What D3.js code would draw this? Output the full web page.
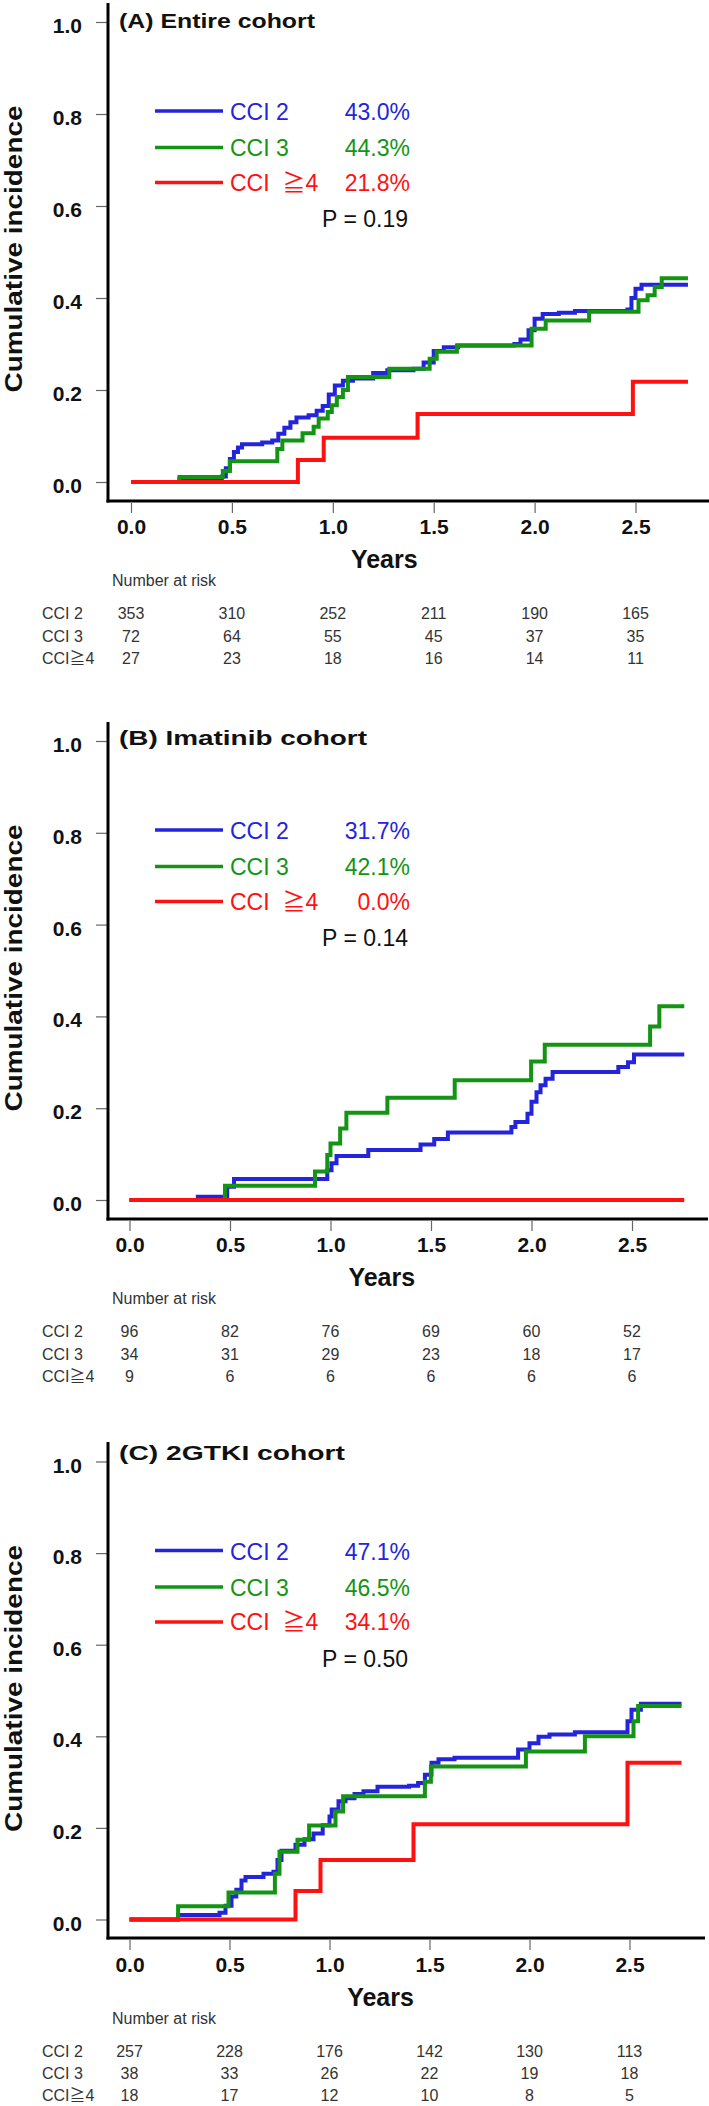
<!DOCTYPE html>
<html><head><meta charset="utf-8">
<script src="https://cdn.jsdelivr.net/npm/d3@7"></script>
<style>body{margin:0;background:#fff} svg{display:block}</style>
</head><body><svg id="c" width="709" height="2106"></svg>
<script>
// ---------- DATA ----------
const xTicks = [0, 0.5, 1.0, 1.5, 2.0, 2.5];
const yTicks = [0, 0.2, 0.4, 0.6, 0.8, 1.0];
const groupNames = ["CCI 2", "CCI 3", "CCI  \u22674"];
const riskNames = ["CCI 2", "CCI 3", "CCI\u22674"];
const seriesColors = ["#2424dc", "#149414", "#ff1111"];
const panelTitles = ["(A) Entire cohort", "(B) Imatinib  cohort", "(C) 2GTKI cohort"];
const pValues = ["P = 0.19", "P = 0.14", "P = 0.50"];

const A_pct = ["43.0%", "44.3%", "21.8%"];
const B_pct = ["31.7%", "42.1%", "0.0%"];
const C_pct = ["47.1%", "46.5%", "34.1%"];

// step curves: [years, cumulative incidence]
const A_cci2 = [[0,0],[0.24,0.006],[0.45,0.012],[0.47,0.03],[0.49,0.05],[0.51,0.065],[0.53,0.075],[0.55,0.082],[0.65,0.086],[0.70,0.09],[0.73,0.105],[0.76,0.118],[0.79,0.13],[0.82,0.14],[0.88,0.145],[0.92,0.155],[0.95,0.165],[0.98,0.19],[1.01,0.21],[1.05,0.22],[1.10,0.225],[1.20,0.237],[1.27,0.243],[1.40,0.246],[1.45,0.26],[1.50,0.285],[1.55,0.293],[1.62,0.297],[1.90,0.30],[1.93,0.31],[1.97,0.33],[2.00,0.355],[2.04,0.365],[2.12,0.368],[2.20,0.372],[2.46,0.375],[2.48,0.40],[2.50,0.42],[2.53,0.429],[2.76,0.429]];
const A_cci3 = [[0,0],[0.24,0.011],[0.455,0.024],[0.49,0.045],[0.725,0.072],[0.75,0.09],[0.85,0.106],[0.905,0.12],[0.93,0.138],[0.975,0.152],[0.995,0.167],[1.02,0.185],[1.05,0.2],[1.075,0.228],[1.28,0.246],[1.48,0.268],[1.515,0.283],[1.615,0.297],[1.985,0.333],[2.055,0.351],[2.27,0.37],[2.515,0.395],[2.56,0.406],[2.595,0.424],[2.63,0.443],[2.76,0.443]];
const A_cci4 = [[0,0],[0.827,0.048],[0.955,0.096],[1.42,0.148],[2.487,0.218],[2.76,0.218]];

const B_cci2 = [[0,0],[0.34,0.007],[0.486,0.029],[0.52,0.046],[0.984,0.065],[1.005,0.08],[1.03,0.096],[1.188,0.109],[1.448,0.121],[1.516,0.133],[1.584,0.147],[1.90,0.159],[1.92,0.17],[1.98,0.188],[2.0,0.214],[2.025,0.235],[2.045,0.25],[2.07,0.264],[2.105,0.279],[2.432,0.29],[2.48,0.30],[2.51,0.317],[2.76,0.317]];
const B_cci3 = [[0,0],[0.475,0.031],[0.923,0.062],[0.984,0.098],[1.0,0.123],[1.048,0.156],[1.079,0.19],[1.283,0.223],[1.618,0.261],[1.998,0.302],[2.066,0.338],[2.59,0.378],[2.636,0.422],[2.76,0.422]];
const B_cci4 = [[0,0],[2.76,0]];

const C_cci2 = [[0,0],[0.243,0.01],[0.45,0.015],[0.48,0.03],[0.51,0.05],[0.534,0.065],[0.56,0.085],[0.58,0.093],[0.67,0.10],[0.72,0.104],[0.74,0.13],[0.76,0.15],[0.83,0.163],[0.875,0.175],[0.92,0.188],[0.966,0.206],[1.0,0.225],[1.011,0.24],[1.045,0.258],[1.08,0.265],[1.125,0.274],[1.17,0.28],[1.24,0.29],[1.398,0.292],[1.443,0.298],[1.477,0.316],[1.51,0.342],[1.545,0.35],[1.625,0.353],[1.943,0.371],[2.0,0.385],[2.045,0.399],[2.1,0.404],[2.227,0.409],[2.49,0.433],[2.51,0.458],[2.557,0.471],[2.76,0.471]];
const C_cci3 = [[0,0],[0.243,0.029],[0.495,0.059],[0.727,0.10],[0.75,0.148],[0.84,0.174],[0.898,0.205],[1.03,0.236],[1.068,0.269],[1.477,0.301],[1.507,0.334],[1.982,0.367],[2.277,0.40],[2.52,0.433],[2.543,0.466],[2.76,0.466]];
const C_cci4 = [[0,0],[0.83,0.062],[0.955,0.13],[1.42,0.208],[2.49,0.342],[2.76,0.342]];

// number at risk
const A_risk2 = [353, 310, 252, 211, 190, 165];
const A_risk3 = [72, 64, 55, 45, 37, 35];
const A_risk4 = [27, 23, 18, 16, 14, 11];
const B_risk2 = [96, 82, 76, 69, 60, 52];
const B_risk3 = [34, 31, 29, 23, 18, 17];
const B_risk4 = [9, 6, 6, 6, 6, 6];
const C_risk2 = [257, 228, 176, 142, 130, 113];
const C_risk3 = [38, 33, 26, 22, 19, 18];
const C_risk4 = [18, 17, 12, 10, 8, 5];

// ---------- LAYOUT ----------
const panels = [
  {title: panelTitles[0], titleY: 28, titleLen: 196, p: pValues[0], pct: A_pct, curves: [A_cci2, A_cci3, A_cci4], risk: [A_risk2, A_risk3, A_risk4],
   y1: 22, y0: 482, axisY: 501, top: 3, x0: 131, x25: 635.5, right: 709},
  {title: panelTitles[1], titleY: 745, titleLen: 248, p: pValues[1], pct: B_pct, curves: [B_cci2, B_cci3, B_cci4], risk: [B_risk2, B_risk3, B_risk4],
   y1: 741, y0: 1200, axisY: 1219, top: 722, x0: 129.5, x25: 632, right: 708},
  {title: panelTitles[2], titleY: 1460, titleLen: 226, p: pValues[2], pct: C_pct, curves: [C_cci2, C_cci3, C_cci4], risk: [C_risk2, C_risk3, C_risk4],
   y1: 1461.5, y0: 1919.5, axisY: 1938, top: 1442, x0: 129.5, x25: 629.5, right: 705}
];

const FONT = "'Liberation Sans', Arial, Helvetica, 'Noto Sans CJK JP', sans-serif";
const svg = d3.select("#c");
const yAxisX = 108;

panels.forEach(P => {
  const g = svg.append("g");
  const x = d3.scaleLinear().domain([0, 2.5]).range([P.x0, P.x25]);
  const y = d3.scaleLinear().domain([0, 1]).range([P.y0, P.y1]);

  // y ticks
  const ya = d3.axisLeft(y).tickValues(yTicks).tickSize(11).tickFormat(d3.format(".1f"));
  const yg = g.append("g").attr("transform", `translate(${yAxisX - 1},0)`).call(ya);
  yg.select(".domain").remove();
  yg.selectAll(".tick line").attr("stroke", "#666").attr("stroke-width", 1.2);
  yg.selectAll(".tick text").attr("x", -25).attr("dy", "0.5em")
    .attr("font-family", FONT).attr("font-weight", "bold").attr("font-size", 21).attr("fill", "#111");

  // x ticks
  const xa = d3.axisBottom(x).tickValues(xTicks).tickSize(10).tickFormat(d3.format(".1f"));
  const xg = g.append("g").attr("transform", `translate(0,${P.axisY + 2})`).call(xa);
  xg.select(".domain").remove();
  xg.selectAll(".tick line").attr("stroke", "#666").attr("stroke-width", 1.2);
  xg.selectAll(".tick text").attr("y", P.y0 + 52 - P.axisY - 2).attr("dy", 0)
    .attr("font-family", FONT).attr("font-weight", "bold").attr("font-size", 21).attr("fill", "#111");

  // axis lines
  g.append("line").attr("x1", yAxisX).attr("x2", yAxisX).attr("y1", P.top).attr("y2", P.axisY + 1.5)
    .attr("stroke", "#000").attr("stroke-width", 3);
  g.append("line").attr("x1", yAxisX - 1.5).attr("x2", P.right).attr("y1", P.axisY).attr("y2", P.axisY)
    .attr("stroke", "#000").attr("stroke-width", 3);

  // curves
  const line = d3.line().x(d => x(d[0])).y(d => y(d[1])).curve(d3.curveStepAfter);
  P.curves.forEach((c, i) => {
    g.append("path").datum(c).attr("d", line).attr("fill", "none")
      .attr("stroke", seriesColors[i]).attr("stroke-width", 4).attr("stroke-linejoin", "miter");
  });

  // title
  g.append("text").attr("x", 119).attr("y", P.titleY).text(P.title)
    .attr("font-family", FONT).attr("font-weight", "bold").attr("font-size", 20).attr("fill", "#111")
    .attr("textLength", P.titleLen).attr("lengthAdjust", "spacingAndGlyphs");

  // y title
  g.append("text").attr("transform", `translate(22,${P.y1 + 227}) rotate(-90)`).attr("text-anchor", "middle")
    .text("Cumulative incidence").attr("font-family", FONT).attr("font-weight", "bold").attr("font-size", 23)
    .attr("fill", "#111").attr("textLength", 287).attr("lengthAdjust", "spacingAndGlyphs");

  // legend
  const lineY = [89, 125.5, 160.5], textY = [98, 134, 168.5];
  groupNames.forEach((n, i) => {
    g.append("line").attr("x1", 155).attr("x2", 223).attr("y1", P.y1 + lineY[i]).attr("y2", P.y1 + lineY[i])
      .attr("stroke", seriesColors[i]).attr("stroke-width", 3.5);
    g.append("text").attr("x", 230).attr("y", P.y1 + textY[i]).text(n).attr("xml:space", "preserve")
      .style("white-space", "pre")
      .attr("font-family", FONT).attr("font-size", 23).attr("fill", seriesColors[i]);
    g.append("text").attr("x", 410).attr("y", P.y1 + textY[i]).attr("text-anchor", "end").text(P.pct[i])
      .attr("font-family", FONT).attr("font-size", 23).attr("fill", seriesColors[i]);
  });
  g.append("text").attr("x", 408).attr("y", P.y1 + 205).attr("text-anchor", "end").text(P.p)
    .attr("font-family", FONT).attr("font-size", 23).attr("fill", "#111");

  // axis title
  g.append("text").attr("x", x(1.25) + 1).attr("y", P.y0 + 86).attr("text-anchor", "middle").text("Years")
    .attr("font-family", FONT).attr("font-weight", "bold").attr("font-size", 25).attr("fill", "#111");

  // number at risk
  g.append("text").attr("x", 112).attr("y", P.y0 + 104).text("Number at risk")
    .attr("font-family", FONT).attr("font-size", 16).attr("fill", "#333");
  const rowY = [137, 159.5, 181.5];
  P.risk.forEach((row, i) => {
    g.append("text").attr("x", 42).attr("y", P.y0 + rowY[i]).text(riskNames[i])
      .attr("font-family", FONT).attr("font-size", 16).attr("fill", "#333");
    g.selectAll(null).data(row).enter().append("text")
      .attr("x", (d, j) => x(xTicks[j])).attr("y", P.y0 + rowY[i]).attr("text-anchor", "middle")
      .text(d => d).attr("font-family", FONT).attr("font-size", 16).attr("fill", "#333");
  });
});
</script></body></html>
